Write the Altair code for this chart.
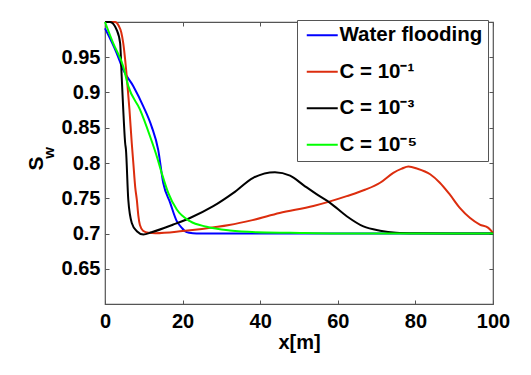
import altair as alt
import pandas as pd

series_names = ["Water flooding", "C = 10⁻¹", "C = 10⁻³", "C = 10⁻⁵"]
series_colors = ["#0000ff", "#dc2d0e", "#000000", "#00ff00"]

blue_x = [0, 3.0, 4.7, 7.3, 9.9, 12.0, 13.7, 15.0, 16.8, 18.5, 19.8, 20.6, 21.7, 23.6, 26, 40, 60, 80, 100]
blue_y = [0.991, 0.956, 0.932, 0.909, 0.880, 0.852, 0.819, 0.772, 0.7435, 0.7175, 0.708, 0.7033, 0.701, 0.7, 0.7, 0.7, 0.7, 0.7, 0.7]

red_x = [0, 2.6, 3.5, 4.2, 4.7, 5.6, 6.3, 6.9, 7.3, 7.8, 8.2, 8.6, 9.0, 9.8, 11.2, 13, 20, 25, 32, 38, 45,
         53.7, 62.3, 67, 70.9, 74.3, 76.5, 78.2, 80.5, 83.8, 86.3, 88.9, 91.5, 94.1, 96.6, 98.8, 100]
red_y = [1.0, 1.0, 0.995, 0.985, 0.970, 0.923, 0.876, 0.828, 0.80, 0.765, 0.748, 0.725, 0.712, 0.704, 0.701, 0.7005,
         0.7035, 0.7065, 0.712, 0.719, 0.729, 0.739, 0.753, 0.762, 0.772, 0.786, 0.792, 0.795, 0.792, 0.784,
         0.772, 0.755, 0.736, 0.722, 0.7127, 0.708, 0.701]

black_x = [0, 1.3, 3.0, 3.9, 4.3, 4.7, 5.2, 5.4, 6.0, 6.9, 8.2, 9.9, 12.0, 17.6, 21.9, 27.9, 33.1, 38.2, 43.8,
           47.7, 51.3, 55.0, 58.0, 62.3, 66.6, 70.9, 75, 80, 90, 100]
black_y = [1.0, 1.0, 0.989, 0.970, 0.923, 0.876, 0.828, 0.819, 0.748, 0.715, 0.7033, 0.6986, 0.7018, 0.7127, 0.722,
           0.7387, 0.7576, 0.779, 0.787, 0.782, 0.768, 0.754, 0.7435, 0.7245, 0.710, 0.704, 0.7012, 0.7004, 0.7, 0.7]

green_x = [0, 2.1, 4.7, 6.0, 9.0, 11.6, 13.2, 14.6, 16.3, 18.5, 21.9, 26.2, 32.2, 39.1, 47.7, 60, 80, 100]
green_y = [1.0, 0.970, 0.937, 0.909, 0.876, 0.838, 0.812, 0.786, 0.7576, 0.734, 0.7175, 0.7095, 0.7042, 0.7018,
           0.701, 0.7, 0.7, 0.7]

x_ticks = [0, 20, 40, 60, 80, 100]
y_ticks = [0.65, 0.7, 0.75, 0.8, 0.85, 0.9, 0.95]

rows = []
for name, xs, ys in zip(series_names, [blue_x, red_x, black_x, green_x], [blue_y, red_y, black_y, green_y]):
    for i, (a, b) in enumerate(zip(xs, ys)):
        rows.append({"series": name, "x": a, "y": b, "order": i})
df = pd.DataFrame(rows)

W, H = 388, 282
FONT = "Liberation Sans"
FRAME = "#555555"
FS = 20

xs_dom = alt.Scale(domain=[0, 100], nice=False, zero=False)
ys_dom = alt.Scale(domain=[0.6, 1.0], nice=False, zero=False)

lines = alt.Chart(df).mark_line(strokeWidth=2, interpolate="monotone").encode(
    x=alt.X("x:Q", scale=xs_dom, axis=alt.Axis(
        values=x_ticks, title="x[m]", ticks=False, domain=False, grid=False, labelFlush=False,
        labelFont=FONT, labelFontSize=FS, labelFontWeight="bold", labelColor="black",
        labelPadding=7, titleFont=FONT, titleFontSize=FS, titleFontWeight="bold",
        titleColor="black", titlePadding=1)),
    y=alt.Y("y:Q", scale=ys_dom, axis=alt.Axis(
        values=y_ticks, title="S", ticks=False, domain=False, grid=False, labelFlush=False,
        labelFont=FONT, labelFontSize=FS, labelFontWeight="bold", labelColor="black",
        labelPadding=5, titleFont=FONT, titleFontSize=21, titleFontWeight="bold",
        titleColor="black", titlePadding=15, format="~g")),
    color=alt.Color("series:N", scale=alt.Scale(domain=series_names, range=series_colors),
                    sort=series_names,
                    legend=alt.Legend(
                        title=None, orient="none", legendX=192, legendY=-2,
                        symbolType="M-2,0H2", symbolSize=240, symbolStrokeWidth=2,
                        symbolOffset=10, labelOffset=7,
                        labelFont=FONT, labelFontSize=20.5, labelFontWeight="bold",
                        labelColor="black", rowPadding=15.5, padding=5,
                        strokeColor=FRAME, fillColor="white", labelLimit=300)),
    order=alt.Order("order:Q"),
)

tick_axis = dict(labels=False, domain=False, grid=False, title=None, tickSize=4,
                 tickColor=FRAME, tickWidth=1)

ticks_a = alt.Chart(df).mark_line(opacity=0).encode(
    x=alt.X("x:Q", scale=xs_dom, axis=alt.Axis(orient="top", offset=-H, values=x_ticks, **tick_axis)),
    y=alt.Y("y:Q", scale=ys_dom, axis=alt.Axis(orient="right", offset=-W, values=y_ticks, **tick_axis)),
    detail="series:N",
)
ticks_b = alt.Chart(df).mark_line(opacity=0).encode(
    x=alt.X("x:Q", scale=xs_dom, axis=alt.Axis(orient="bottom", offset=-H, values=x_ticks, **tick_axis)),
    y=alt.Y("y:Q", scale=ys_dom, axis=alt.Axis(orient="left", offset=-W, values=y_ticks, **tick_axis)),
    detail="series:N",
)

sub_w = alt.Chart(pd.DataFrame({"t": ["w"]})).mark_text(
    font=FONT, fontSize=15, fontWeight="bold", angle=270, color="black"
).encode(text="t:N", x=alt.value(-56), y=alt.value(131))

chart = alt.layer(ticks_a, ticks_b, lines, sub_w).resolve_scale(
    x="independent", y="independent"
).properties(
    width=W, height=H,
    autosize=alt.AutoSizeParams(type="none"),
    padding={"left": 97, "top": 14, "right": 20, "bottom": 50},
).configure_view(stroke=FRAME, strokeWidth=1.2)

chart.save("out.html", embed_options={"renderer": "svg", "actions": False})
